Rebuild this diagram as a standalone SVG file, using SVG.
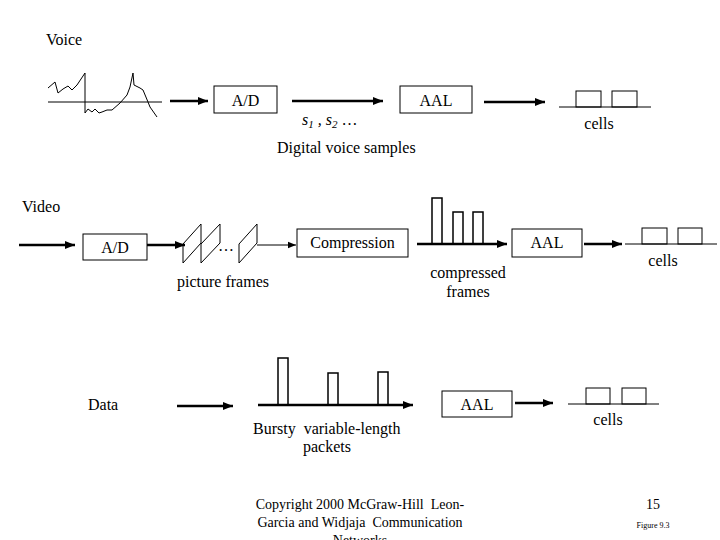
<svg xmlns="http://www.w3.org/2000/svg" width="720" height="540" viewBox="0 0 720 540">
<style>
text{font-family:"Liberation Serif","Times New Roman",serif;fill:#000}
.t{font-size:16px}
.c{text-anchor:middle}
.box{fill:#fff;stroke:#000;stroke-width:1}
.thin{fill:none;stroke:#000;stroke-width:1}
.thick{fill:none;stroke:#000;stroke-width:2.5}
.bar{fill:#fff;stroke:#000;stroke-width:1.5}
</style>
<defs>
<marker id="ah" viewBox="0 0 10 10" refX="10" refY="5" markerWidth="4" markerHeight="4" orient="auto" markerUnits="strokeWidth"><path d="M0,1 L10,5 L0,9 z" fill="#000"/></marker>
<marker id="ahs" viewBox="0 0 10 10" refX="10" refY="5" markerWidth="8" markerHeight="8" orient="auto" markerUnits="strokeWidth"><path d="M0,1 L10,5 L0,9 z" fill="#000"/></marker>
</defs>
<rect width="720" height="540" fill="#fff"/>

<!-- Voice -->
<g id="voice">
<text class="t" x="46" y="45">Voice</text>
<line class="thin" x1="48" y1="102" x2="162" y2="102"/>
<polyline class="thin" stroke-width="1.5" points="48,88 55,82 58,93 63,89 68,86 72,90 77,85 85,73 85,113 88,109 92,112 95,109 99,113 102,112 107,110 112,110 120,103 127,95 130,87 133,73 134,85 140,88 143,90 148,102 150,107 157,117"/>
</g>
<g id="voice-ad"><rect class="box" x="214" y="86" width="63" height="27"/><text class="t c" x="245.5" y="106">A/D</text></g>
<g id="voice-aal"><rect class="box" x="400" y="86" width="72" height="27"/><text class="t c" x="436" y="106">AAL</text></g>
<g id="voice-cells">
<line class="thin" x1="559" y1="107" x2="651" y2="107"/>
<rect class="thin" x="576" y="91" width="25" height="16"/>
<rect class="thin" x="612" y="91" width="25" height="16"/>
<text class="t c" x="599" y="129">cells</text>
</g>
<text class="t" x="302" y="125" style="font-style:italic">s<tspan font-size="11" dy="3">1</tspan><tspan dy="-3"> , s</tspan><tspan font-size="11" dy="3">2</tspan><tspan dy="-3" font-style="normal"> …</tspan></text>
<text class="t" x="277" y="153">Digital voice samples</text>

<!-- Video -->
<text class="t" x="22" y="212">Video</text>
<g id="video-ad"><rect class="box" x="83" y="234" width="64" height="26"/><text class="t c" x="115" y="253">A/D</text></g>
<g id="frames">
<polygon class="thin" points="183,244 201,224 201,243 183,263"/>
<polygon class="thin" points="201,244 220,224 220,243 201,263"/>
<polygon class="thin" points="239,244 257,224 257,243 239,263"/>
<text class="t" x="218" y="251">…</text>
<text class="t c" x="223" y="287">picture frames</text>
</g>
<g id="compression"><rect class="box" x="297" y="229" width="111" height="28"/><text class="t c" x="352.5" y="248">Compression</text></g>
<g id="compressed-frames">
<rect class="bar" x="432" y="198" width="10" height="46"/>
<rect class="bar" x="453" y="212" width="10" height="32"/>
<rect class="bar" x="473" y="212" width="10" height="32"/>
<text class="t c" x="468" y="278">compressed</text>
<text class="t c" x="468" y="297">frames</text>
</g>
<g id="video-aal"><rect class="box" x="512" y="229" width="70" height="28"/><text class="t c" x="547" y="248">AAL</text></g>
<g id="video-cells">
<line class="thin" x1="625" y1="244" x2="717" y2="244"/>
<rect class="thin" x="642" y="228" width="25" height="16"/>
<rect class="thin" x="678" y="228" width="24" height="16"/>
<text class="t c" x="663" y="266">cells</text>
</g>

<!-- Data -->
<text class="t" x="88" y="410">Data</text>
<g id="packets">
<rect class="bar" x="278" y="358" width="10" height="47"/>
<rect class="bar" x="328" y="373" width="10" height="32"/>
<rect class="bar" x="378" y="372" width="10" height="33"/>
<text class="t" x="253" y="434" xml:space="preserve">Bursty  variable-length</text>
<text class="t c" x="327" y="452">packets</text>
</g>
<g id="data-aal"><rect class="box" x="442" y="391" width="70" height="26"/><text class="t c" x="477" y="410">AAL</text></g>
<g id="data-cells">
<line class="thin" x1="568" y1="404" x2="659" y2="404"/>
<rect class="thin" x="586" y="388" width="24" height="16"/>
<rect class="thin" x="622" y="388" width="24" height="16"/>
<text class="t c" x="608" y="425">cells</text>
</g>

<!-- connectors -->
<g id="connectors">
<line class="thick" x1="170" y1="101" x2="208" y2="101" marker-end="url(#ah)"/>
<line class="thick" x1="292" y1="101" x2="383" y2="101" marker-end="url(#ah)"/>
<line class="thick" x1="484" y1="102" x2="545" y2="102" marker-end="url(#ah)"/>
<line class="thick" x1="19" y1="245" x2="75" y2="245" marker-end="url(#ah)"/>
<line class="thick" x1="147" y1="245" x2="185" y2="245" marker-end="url(#ah)"/>
<line class="thin" x1="257" y1="245" x2="296" y2="245" marker-end="url(#ahs)"/>
<line class="thick" x1="417" y1="244" x2="507" y2="244" marker-end="url(#ah)"/>
<line class="thick" x1="584" y1="244" x2="622" y2="244" marker-end="url(#ah)"/>
<line class="thick" x1="177" y1="406" x2="233" y2="406" marker-end="url(#ah)"/>
<line class="thick" x1="258" y1="405" x2="413" y2="405" marker-end="url(#ah)"/>
<line class="thick" x1="515" y1="403" x2="553" y2="403" marker-end="url(#ah)"/>
</g>

<!-- footer -->
<g id="footer">
<text class="c" x="360" y="509" font-size="14" xml:space="preserve">Copyright 2000 McGraw-Hill  Leon-</text>
<text class="c" x="360" y="527" font-size="14" xml:space="preserve">Garcia and Widjaja  Communication</text>
<text class="c" x="360" y="545" font-size="14">Networks</text>
<text class="c" x="653" y="509" font-size="14">15</text>
<text class="c" x="653" y="528" font-size="8">Figure 9.3</text>
</g>
</svg>
